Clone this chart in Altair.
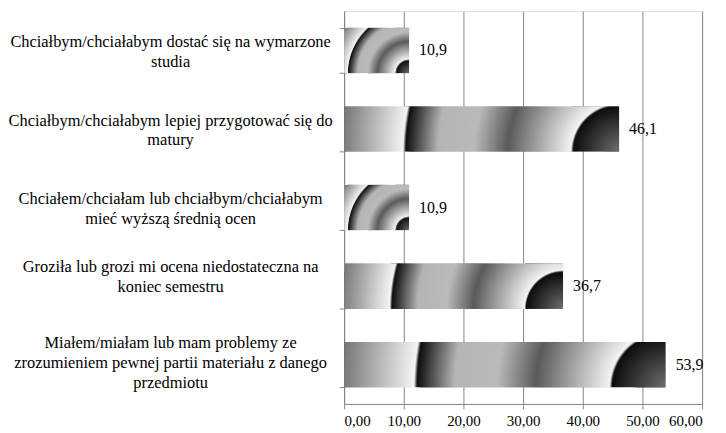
import math
import altair as alt
import pandas as pd

# ---- data ----
categories = [
    "Chciałbym/chciałabym dostać się na wymarzone|studia",
    "Chciałbym/chciałabym lepiej przygotować się do|matury",
    "Chciałem/chciałam lub chciałbym/chciałabym|mieć wyższą średnią ocen",
    "Groziła lub grozi mi ocena niedostateczna na|koniec semestru",
    "Miałem/miałam lub mam problemy ze|zrozumieniem pewnej partii materiału z danego|przedmiotu",
]
values = [10.9, 46.1, 10.9, 36.7, 53.9]
value_labels = ["10,9", "46,1", "10,9", "36,7", "53,9"]
x_ticks = [0, 10, 20, 30, 40, 50, 60]
x_domain = [0, 60]

df = pd.DataFrame({
    "idx": list(range(len(categories))),
    "cat": categories,
    "value": values,
    "label": value_labels,
})

# ---- layout / style ----
PLOT_W = 360
PLOT_H = 395
PAD_INNER = 0.42
PAD_OUTER = 0.21
FONT = "'Liberation Serif', 'Times New Roman', 'DejaVu Serif', serif"
GRAY = "#858585"
LINE_H = 20

step = PLOT_H / (len(categories) - PAD_INNER + 2 * PAD_OUTER)
bar_h = step * (1 - PAD_INNER)
px_per_unit = PLOT_W / (x_domain[1] - x_domain[0])

stops = [
    (0.00, "#6e6e6e"),
    (0.165, "#0c0c0c"),
    (0.172, "#f4f4f4"),
    (0.40, "#5a5a5a"),
    (0.52, "#bababa"),
    (0.65, "#b4b4b4"),
    (0.765, "#0e0e0e"),
    (0.775, "#f4f4f4"),
    (1.00, "#747474"),
]


def radial_for(v):
    w = v * px_per_unit
    h = bar_h
    diag = math.hypot(w, h)
    m = max(w, h)
    cx = 0.5 + w / (2 * m)
    cy = 0.5 + h / (2 * m)
    r = diag / m
    return {
        "gradient": "radial",
        "x1": cx, "y1": cy, "r1": 0,
        "x2": cx, "y2": cy, "r2": r,
        "stops": [{"offset": o, "color": c} for o, c in stops],
    }


x_enc = alt.X(
    "value:Q",
    scale=alt.Scale(domain=x_domain, nice=False),
    axis=alt.Axis(
        values=x_ticks,
        title=None,
        labelExpr="replace(format(datum.value, '.2f'), '.', ',')",
        grid=True,
        gridColor=GRAY,
        gridWidth=1,
        domainColor=GRAY,
        tickColor=GRAY,
        tickSize=5,
        labelFont=FONT,
        labelFontSize=15,
        labelColor="#000000",
        labelPadding=5,
    ),
)

# vertical shift of each multi-line label block (block centred on its band)
label_offset = {
    "condition": [
        {"test": f"datum.value === '{categories[3]}'", "value": -20},
        {"test": "length(split(datum.value, '|')) === 3", "value": -22},
    ],
    "value": -9,
}

y_enc = alt.Y(
    "cat:N",
    sort=categories,
    scale=alt.Scale(paddingInner=PAD_INNER, paddingOuter=PAD_OUTER),
    axis=alt.Axis(
        title=None,
        labelExpr="split(datum.label, '|')",
        labelAlign="center",
        labelBaseline="middle",
        labelPadding=170,
        labelOffset=label_offset,
        labelFont=FONT,
        labelFontSize=16.5,
        labelLineHeight=LINE_H,
        labelColor="#000000",
        labelLimit=400,
        tickBand="extent",
        tickSize=5,
        tickColor=GRAY,
        domainColor=GRAY,
        grid=False,
    ),
)

base = alt.Chart(df).encode(x=x_enc, y=y_enc)

layers = []
for i, v in enumerate(values):
    layers.append(
        base.transform_filter(alt.datum.idx == i).mark_bar(color=radial_for(v))
    )

text = base.mark_text(
    align="left", baseline="middle", dx=10, font=FONT, fontSize=16, color="#000000"
).encode(text="label:N")

chart = (
    alt.layer(*layers, text)
    .properties(
        width=PLOT_W,
        height=PLOT_H,
        autosize=alt.AutoSizeParams(type="none"),
        padding={"left": 338, "top": 2, "right": 16, "bottom": 25},
    )
    .configure_view(stroke=None)
    .configure(background="white", font=FONT)
)

chart.save("out.html", embed_options={"renderer": "svg", "actions": False})
